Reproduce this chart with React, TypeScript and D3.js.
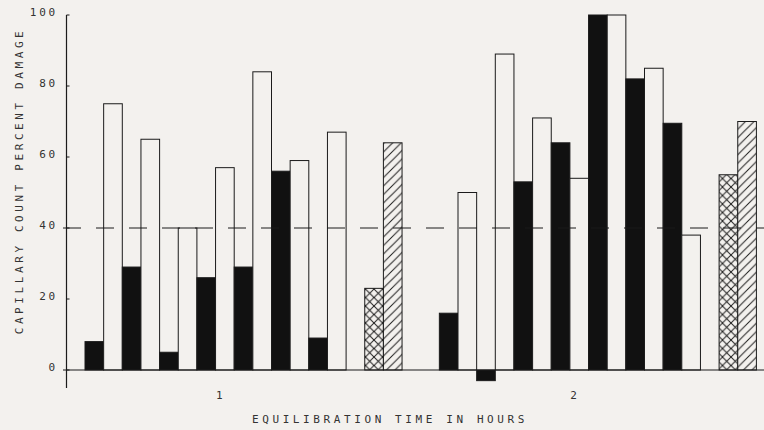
import React from "react";
import * as d3 from "d3";

// values (percent damage)
const hours = ["1", "2"];
const solidBars = [
  [8, 29, 5, 26, 29, 56, 9],
  [16, -3, 53, 64, 100, 82, 69.5],
];
const openBars = [
  [75, 65, 40, 57, 84, 59, 67],
  [50, 89, 71, 54, 100, 85, 38],
];
const crossBars = [23, 55];
const hatchBars = [64, 70];
const yTicks = [0, 20, 40, 60, 80, 100];
const refLine = 40;

const W = 764;
const H = 430;
const ink = "#1b1b1b";
const paper = "#f3f1ee";
const font = "'DejaVu Sans Mono', 'Liberation Mono', monospace";

// each hour group: 7 solid/open pairs, one empty slot, cross + hatch, then 2 empty slots
const SLOTS_PER_GROUP = 19;
const T = 8.5; // pattern tile

export default function App() {
  const x = d3.scaleLinear().domain([0, 36]).range([85, 756.4]);
  const y = d3.scaleLinear().domain([0, 100]).range([370, 15]);
  const bw = x(1) - x(0);

  const bars: { slot: number; v: number; kind: string }[] = [];
  hours.forEach((_, g) => {
    const base = g * SLOTS_PER_GROUP;
    solidBars[g].forEach((v, i) => {
      bars.push({ slot: base + i * 2, v, kind: "solid" });
      bars.push({ slot: base + i * 2 + 1, v: openBars[g][i], kind: "open" });
    });
    bars.push({ slot: base + 15, v: crossBars[g], kind: "cross" });
    bars.push({ slot: base + 16, v: hatchBars[g], kind: "hatch" });
  });

  const fillFor = (k: string) =>
    k === "solid" ? "#111" : k === "open" ? paper : k === "cross" ? "url(#cross)" : "url(#hatch)";

  const axisX = 66.5;

  return (
    <svg
      width={W}
      height={H}
      style={{ position: "absolute", left: 0, top: 0, background: paper }}
    >
      <defs>
        <pattern id="cross" patternUnits="userSpaceOnUse" width={T} height={T}>
          <rect width={T} height={T} fill={paper} />
          <path d={`M0,0L${T},${T}M${T},0L0,${T}`} stroke={ink} strokeWidth={1} />
        </pattern>
        <pattern id="hatch" patternUnits="userSpaceOnUse" width={T} height={T}>
          <rect width={T} height={T} fill={paper} />
          <path d={`M-1,1L1,-1M0,${T}L${T},0M${T - 1},${T + 1}L${T + 1},${T - 1}`} stroke={ink} strokeWidth={1} />
        </pattern>
      </defs>

      {bars.map((b, i) => (
        <rect
          key={i}
          x={x(b.slot)}
          y={Math.min(y(b.v), y(0))}
          width={bw}
          height={Math.abs(y(b.v) - y(0))}
          fill={fillFor(b.kind)}
          stroke={ink}
          strokeWidth={1}
        />
      ))}

      {/* dashed reference line */}
      <line
        x1={63}
        x2={W}
        y1={y(refLine)}
        y2={y(refLine)}
        stroke={ink}
        strokeWidth={1}
        strokeDasharray="18,15"
      />

      {/* axes */}
      <line x1={axisX} x2={axisX} y1={y(100)} y2={388} stroke={ink} strokeWidth={1.2} />
      <line x1={63} x2={W} y1={y(0)} y2={y(0)} stroke={ink} strokeWidth={1.2} />
      {yTicks.map((t) => (
        <g key={t}>
          <line x1={axisX} x2={axisX + 3} y1={y(t)} y2={y(t)} stroke={ink} />
          <text
            x={58}
            y={y(t) + 1}
            textAnchor="end"
            style={{ font: `11px ${font}`, letterSpacing: 2.8, fill: "#333" }}
          >
            {t}
          </text>
        </g>
      ))}
      {hours.map((h, g) => (
        <text
          key={h}
          x={x(g * SLOTS_PER_GROUP + 7.2)}
          y={399}
          textAnchor="middle"
          style={{ font: `11px ${font}`, fill: "#333" }}
        >
          {h}
        </text>
      ))}

      <text
        x={390}
        y={423}
        textAnchor="middle"
        style={{ font: `11px ${font}`, letterSpacing: 3.6, fill: "#333" }}
      >
        EQUILIBRATION TIME IN HOURS
      </text>
      <text
        transform="translate(23,181) rotate(-90)"
        textAnchor="middle"
        style={{ font: `11px ${font}`, letterSpacing: 3.6, fill: "#333" }}
      >
        CAPILLARY COUNT PERCENT DAMAGE
      </text>
    </svg>
  );
}
